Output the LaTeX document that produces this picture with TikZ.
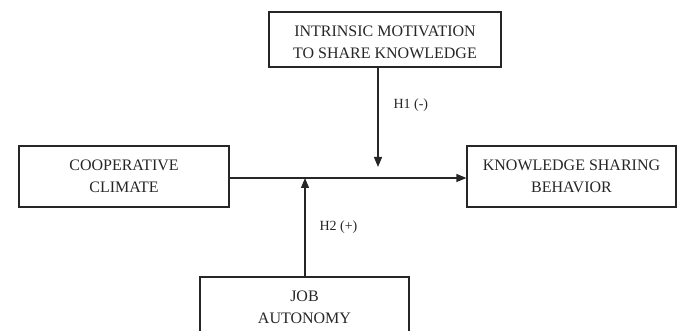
\documentclass[tikz,border=0pt]{standalone}
\usepackage{fontspec}
\setmainfont{Liberation Serif}
\usetikzlibrary{arrows.meta}
\begin{document}
\begin{tikzpicture}[x=1pt,y=-1pt,
  box/.style={draw=black!85,line width=1.2pt,minimum width=#1,minimum height=61pt,align=center,inner sep=0pt,font=\fontsize{16}{22.5}\selectfont,text=black!85},
  box/.default=210pt,
  txt/.style={align=center,inner sep=0pt,font=\fontsize{16}{22.5}\selectfont,text=black!85},
  conn/.style={draw=black!85,line width=1.2pt,-{Triangle[length=10pt,width=8pt]}},
  lbl/.style={font=\fontsize{14}{16}\selectfont,text=black!85}]
\useasboundingbox (0,0) rectangle (678,331);
\clip (0,0) rectangle (678,331);
\node[box=232pt,minimum height=55pt] (top) at (385,39.5) {};
\node[txt] (toptext) at (385,42.5) {INTRINSIC MOTIVATION\\TO SHARE KNOWLEDGE};
\node[box=210pt] (left) at (124,176.5) {COOPERATIVE\\CLIMATE};
\node[box=209pt] (right) at (571.5,176.5) {KNOWLEDGE SHARING\\BEHAVIOR};
\node[box=209pt] (bot) at (304.5,307.5) {JOB\\AUTONOMY};
\coordinate (mid) at (305,178);
\coordinate (h1end) at (378,167);
\draw[conn] (left.east |- 0,178) -- (right.west |- 0,178);
\draw[conn] (top.south -| h1end) -- (h1end);
\draw[conn] (bot.north -| mid) -- (mid);
\node[lbl,anchor=west] (h1) at (390,105) {H1 (-)};
\node[lbl,anchor=west] (h2) at (316,227) {H2 (+)};
\end{tikzpicture}
\end{document}
